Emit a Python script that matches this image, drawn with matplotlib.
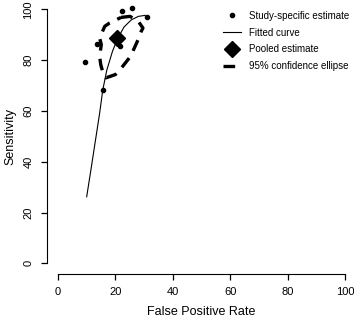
import matplotlib
matplotlib.use("Agg")
import matplotlib.pyplot as plt

plt.rcParams['font.family'] = ['Liberation Sans', 'DejaVu Sans']

# study-specific estimates (FPR %, sensitivity %)
study_fpr = [9.4, 13.5, 15.6, 21.5, 22.4, 25.8, 31.0]
study_sens = [79.3, 86.5, 68.2, 85.7, 99.2, 100.5, 96.9]

# fitted curve
curve_fpr = [10.0, 11.5, 13.0, 14.5, 15.6, 17.0, 19.0, 20.8, 23.0, 25.5, 28.0, 30.4]
curve_sens = [26.2, 37.0, 48.0, 59.0, 68.2, 76.0, 83.5, 88.5, 93.0, 95.8, 97.2, 97.6]

# pooled estimate
pooled_fpr = [20.7]
pooled_sens = [88.8]

# 95% confidence ellipse outline
ell_fpr = [22.0, 25.1, 27.9, 29.6, 29.0, 27.9, 25.3, 22.1, 20.0, 16.7,
           15.7, 14.9, 14.5, 15.1, 14.5, 16.3, 18.0, 22.0]
ell_sens = [96.8, 97.2, 95.4, 92.6, 91.3, 88.0, 81.5, 76.9, 74.3, 73.0,
            74.9, 78.2, 81.5, 86.1, 88.7, 93.3, 94.6, 96.8]

ticks = [0, 20, 40, 60, 80, 100]

fig = plt.figure(figsize=(3.54, 3.18), dpi=100)
ax = fig.add_axes([46.5 / 354, 1 - 273.5 / 318, 310 / 354, 274.4 / 318])

ax.plot(study_fpr, study_sens, 'o', color='black', markersize=3,
        label='Study-specific estimate')
ax.plot(curve_fpr, curve_sens, '-', color='black', linewidth=0.8,
        label='Fitted curve')
ax.plot(pooled_fpr, pooled_sens, 'D', color='black', markersize=8,
        label='Pooled estimate')
ax.plot(ell_fpr, ell_sens, color='black', linewidth=2.4,
        dashes=(3.5, 2.5), label='95% confidence ellipse')

ax.set_xlim(-4, 104)
ax.set_ylim(-4, 104)
ax.set_xticks(ticks)
ax.set_yticks(ticks)
ax.set_yticklabels([str(t) for t in ticks], rotation=90, va='center')

for s in ['top', 'right']:
    ax.spines[s].set_visible(False)
ax.spines['left'].set_bounds(0, 100)
ax.spines['bottom'].set_bounds(0, 100)
ax.tick_params(direction='out', length=4.5, width=0.9, labelsize=8, pad=5)

ax.set_xlabel('False Positive Rate', fontsize=9, labelpad=7)
ax.set_ylabel('Sensitivity', fontsize=9, labelpad=5)

leg = ax.legend(loc='upper left', bbox_to_anchor=(214 / 354, 1 - 2 / 318),
                bbox_transform=fig.transFigure, frameon=False, fontsize=7,
                handlelength=1.9, handletextpad=0.8, labelspacing=0.7)

fig.savefig('out.png', dpi=100)
